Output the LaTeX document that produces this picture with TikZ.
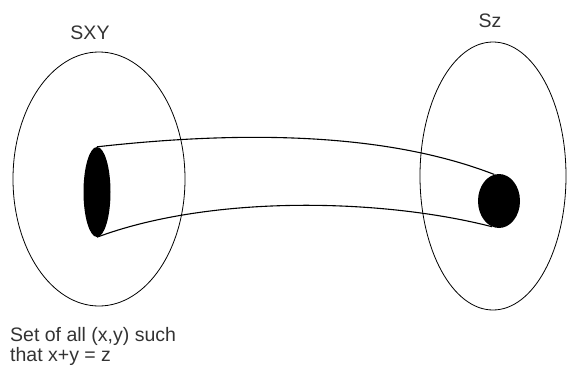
\documentclass[tikz,border=0pt]{standalone}
\usepackage{fontspec}
\setmainfont{Liberation Sans}
\usetikzlibrary{shapes.geometric}
\begin{document}
\begin{tikzpicture}[x=1pt, y=-1pt,
    setshape/.style={draw, ellipse, line width=0.8pt, inner sep=0pt},
    hole/.style={fill, ellipse, inner sep=0pt},
    tube/.style={line width=1.1pt},
    lbl/.style={text=black!80, font=\fontsize{19.5}{20.5}\selectfont, inner sep=0pt}]
    \useasboundingbox (0,0) rectangle (568,375);

    % Sets
    \node[setshape, minimum width=172pt, minimum height=254pt] (sxy) at (99,179) {};
    \node[setshape, minimum width=146pt, minimum height=268pt] (sz) at (493,176) {};
    \node[lbl, anchor=base] (sxylbl) at (90,39) {SXY};
    \node[lbl, anchor=base] (szlbl) at (490,27) {Sz};

    % Holes
    \node[hole, minimum width=27pt, minimum height=90pt] (lhole) at (97,192) {};
    \node[hole, minimum width=42pt, minimum height=54pt] (rhole) at (499,201) {};

    % Tube
    \draw[tube] (lhole.north) .. controls (230,132) and (380,130) .. (rhole.100);
    \draw[tube] (lhole.south) .. controls (210,195) and (380,198) .. (rhole.255);

    \node[lbl, anchor=north west, align=left] (note) at (10,327) {Set of all (x,y) such\\that x+y = z};
\end{tikzpicture}
\end{document}
